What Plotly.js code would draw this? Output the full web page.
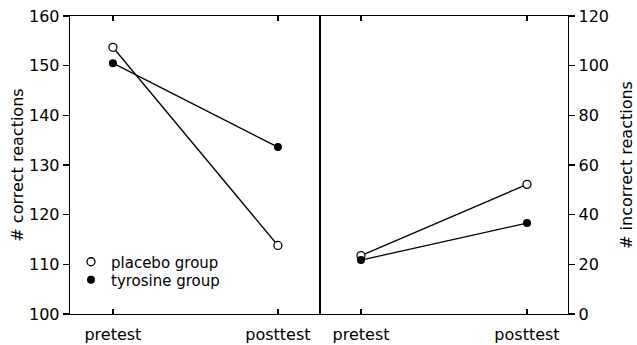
<!DOCTYPE html>
<html>
<head>
<meta charset="utf-8">
<script src="https://cdn.plot.ly/plotly-3.0.1.min.js"></script>
<style>
  html, body { margin: 0; padding: 0; background: #fff; }
  #chart { width: 637px; height: 345px; }
</style>
</head>
<body>
<div id="chart"></div>
<script>
const categories = ['pretest', 'posttest'];
const placeboCorrect = [153.7, 113.8];
const tyrosineCorrect = [150.5, 133.6];
const placeboIncorrect = [23.5, 52.2];
const tyrosineIncorrect = [21.7, 36.6];
const yLeftTicks = [100, 110, 120, 130, 140, 150, 160];
const yRightTicks = [0, 20, 40, 60, 80, 100, 120];

const FONT = 'DejaVu Sans, Liberation Sans, Arial, sans-serif';
const lineStyle = { color: '#000', width: 1.3 };
const openMarker = { symbol: 'circle', size: 8, color: '#fff', line: { color: '#000', width: 1.3 } };
const filledMarker = { symbol: 'circle', size: 8, color: '#000', line: { color: '#000', width: 0 } };

const traces = [
  // lines
  { x: categories, y: placeboCorrect, xaxis: 'x', yaxis: 'y', mode: 'lines', line: lineStyle, showlegend: false, hoverinfo: 'skip' },
  { x: categories, y: tyrosineCorrect, xaxis: 'x', yaxis: 'y', mode: 'lines', line: lineStyle, showlegend: false, hoverinfo: 'skip' },
  { x: categories, y: placeboIncorrect, xaxis: 'x2', yaxis: 'y2', mode: 'lines', line: lineStyle, showlegend: false, hoverinfo: 'skip' },
  { x: categories, y: tyrosineIncorrect, xaxis: 'x2', yaxis: 'y2', mode: 'lines', line: lineStyle, showlegend: false, hoverinfo: 'skip' },
  // markers
  { x: categories, y: placeboCorrect, xaxis: 'x', yaxis: 'y', mode: 'markers', marker: openMarker, name: 'placebo group', legend: 'legend' },
  { x: categories, y: tyrosineCorrect, xaxis: 'x', yaxis: 'y', mode: 'markers', marker: filledMarker, name: 'tyrosine group', legend: 'legend2' },
  { x: categories, y: placeboIncorrect, xaxis: 'x2', yaxis: 'y2', mode: 'markers', marker: openMarker, showlegend: false },
  { x: categories, y: tyrosineIncorrect, xaxis: 'x2', yaxis: 'y2', mode: 'markers', marker: filledMarker, showlegend: false }
];

const axisCommon = {
  showgrid: false, zeroline: false, showline: true, linecolor: '#000', linewidth: 1.3,
  tickcolor: '#000', tickwidth: 1.3, tickfont: { family: FONT, size: 16, color: '#000' }
};

const legendCommon = {
  xanchor: 'left', yanchor: 'middle',
  bgcolor: 'rgba(0,0,0,0)', font: { family: FONT, size: 15, color: '#000' },
  itemwidth: 30
};

const layout = {
  width: 637, height: 345,
  margin: { l: 0, r: 0, t: 16, b: 31 },
  paper_bgcolor: '#fff', plot_bgcolor: '#fff',
  font: { family: FONT, size: 16, color: '#000' },
  xaxis: Object.assign({}, axisCommon, {
    domain: [70 / 637, 320 / 637], type: 'category', range: [-0.26, 1.255],
    anchor: 'y', ticks: 'inside', ticklen: 5, mirror: 'ticks', ticklabelstandoff: 5
  }),
  xaxis2: Object.assign({}, axisCommon, {
    domain: [320 / 637, 568 / 637], type: 'category', range: [-0.247, 1.247],
    anchor: 'y2', ticks: 'inside', ticklen: 5, mirror: 'ticks', ticklabelstandoff: 5
  }),
  yaxis: Object.assign({}, axisCommon, {
    range: [100, 160], tickvals: yLeftTicks, ticks: 'outside', ticklen: 6, anchor: 'x', mirror: true,
    title: { text: '# correct reactions', font: { family: FONT, size: 16, color: '#000' }, standoff: 1 }
  }),
  yaxis2: Object.assign({}, axisCommon, {
    range: [0, 120], tickvals: yRightTicks, ticks: 'outside', ticklen: 6, anchor: 'x2', side: 'right', mirror: true,
    title: { text: '# incorrect reactions', font: { family: FONT, size: 16, color: '#000' }, standoff: 12 }
  }),
  legend: Object.assign({}, legendCommon, { x: 71 / 637, y: (314 - 262) / 298 }),
  legend2: Object.assign({}, legendCommon, { x: 71 / 637, y: (314 - 280) / 298 }),
  showlegend: true
};

Plotly.newPlot('chart', traces, layout, { displayModeBar: false, staticPlot: true });
</script>
</body>
</html>
